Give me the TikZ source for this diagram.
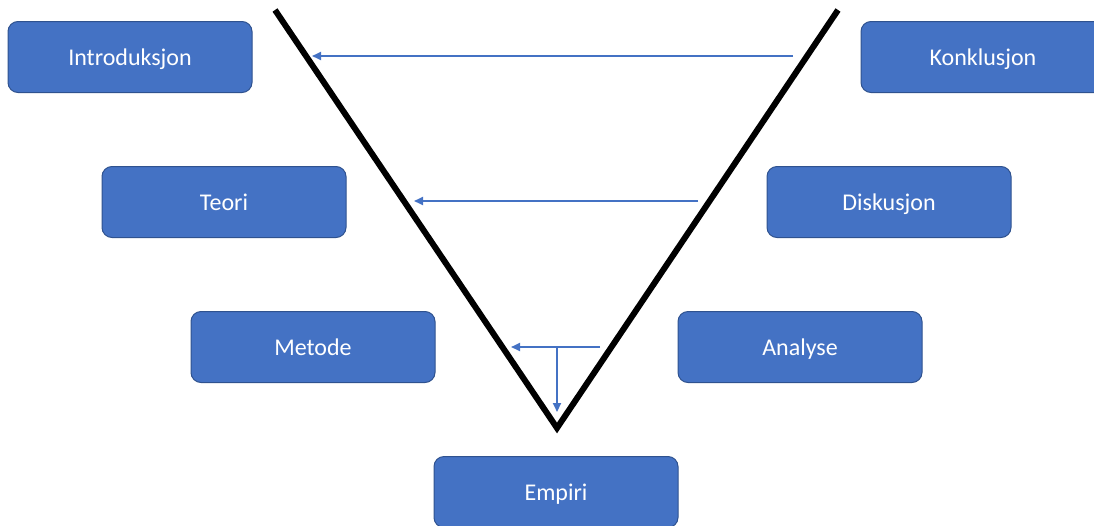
\documentclass[tikz,border=0pt]{standalone}
\usepackage{fontspec}
\setmainfont{Carlito}
\usetikzlibrary{arrows.meta}
\definecolor{boxfill}{HTML}{4472C4}
\definecolor{boxline}{HTML}{2F528F}
\begin{document}
\begin{tikzpicture}[x=1pt,y=-1pt,
  stagebox/.style={draw=boxline,line width=1pt,fill=boxfill,rounded corners=10pt,
    minimum width=244pt,minimum height=71pt,inner sep=0pt,text=white,
    text height=17pt,text depth=0pt,
    font=\fontsize{24}{29}\selectfont},
  vline/.style={line width=6pt,black},
  flow/.style={draw=boxfill,line width=2pt,-{Triangle[length=9pt,width=8pt]}}]
\useasboundingbox (0,0) rectangle (1094,525);
\node[stagebox] (intro) at (130,57) {Introduksjon};
\node[stagebox] (konk) at (983,57) {Konklusjon};
\node[stagebox] (teori) at (224,202) {Teori};
\node[stagebox] (disk) at (889,202) {Diskusjon};
\node[stagebox] (metode) at (313,347) {Metode};
\node[stagebox] (analyse) at (800,347) {Analyse};
\node[stagebox] (empiri) at (556,492) {Empiri};
\coordinate (vl) at (275,10);
\coordinate (vb) at (557,428);
\coordinate (vr) at (838,10);
\draw[vline] (vl) -- (vb) -- (vr);
\coordinate (a1s) at (793,56);
\coordinate (a1e) at (312,56);
\coordinate (a2s) at (698,201);
\coordinate (a2e) at (414,201);
\coordinate (a3s) at (600,347);
\coordinate (a3e) at (511,347);
\coordinate (a4s) at (557,347);
\coordinate (a4e) at (557,412);
\draw[flow] (a1s) -- (a1e);
\draw[flow] (a2s) -- (a2e);
\draw[flow] (a3s) -- (a3e);
\draw[flow] (a4s) -- (a4e);
\end{tikzpicture}
\end{document}
